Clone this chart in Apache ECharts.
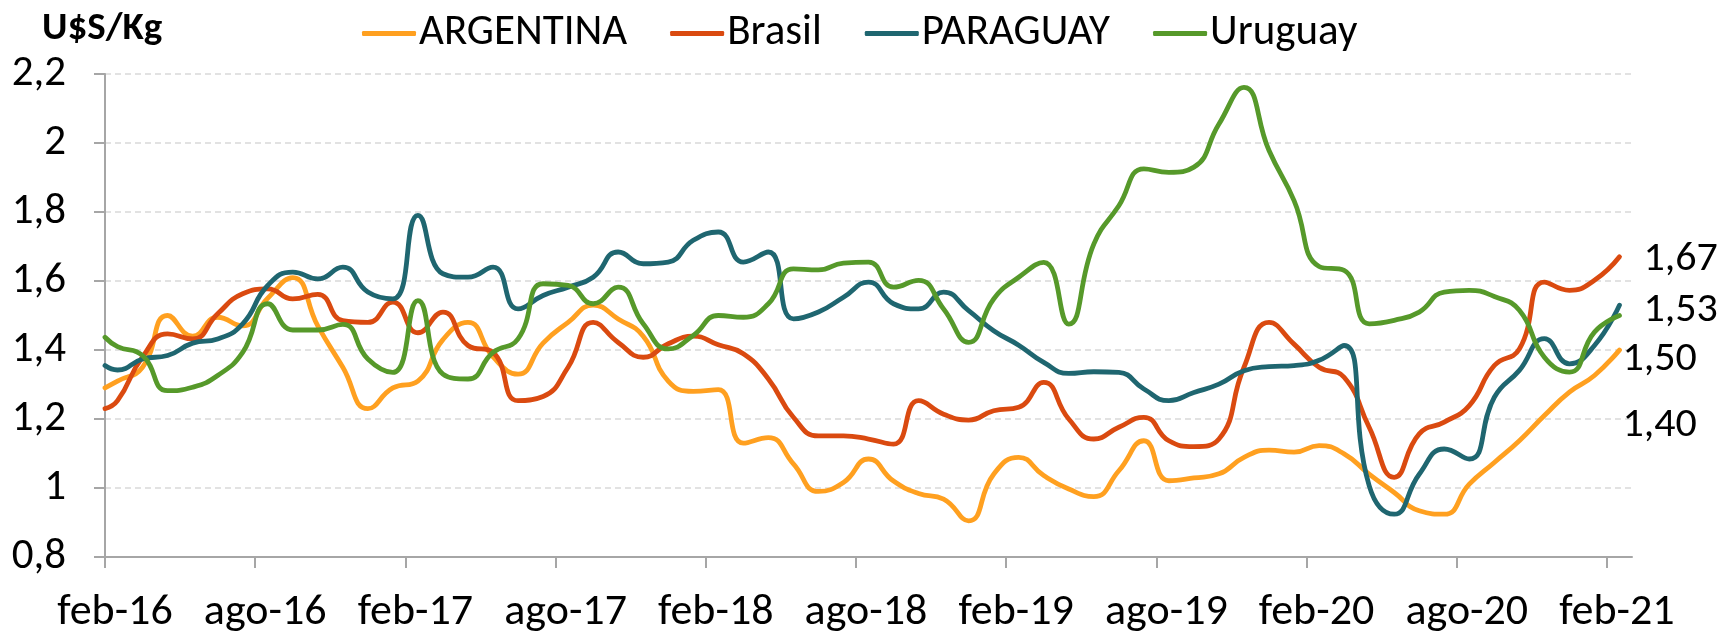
<!DOCTYPE html>
<html>
<head>
<meta charset="utf-8">
<script src="https://cdn.jsdelivr.net/npm/echarts@6/dist/echarts.min.js"></script>
<style>
  html, body { margin: 0; padding: 0; background: #fff; }
  #chart { width: 1717px; height: 631px; }
</style>
</head>
<body>
<div id="chart"></div>
<script>
// Month position (months since feb-16) of each sampled point
const months = [0, 0.5, 1.5, 2.5, 3.5, 4.5, 5.5, 6.5, 7.5, 8.5, 9.5, 10.5, 11.5, 12.5, 13.5, 14.5, 15.5, 16.5, 17.5, 18.5, 19.5,
  20.5, 21.5, 22.5, 23.5, 24.5, 25.5, 26.5, 27.5, 28.5, 29.5, 30.5, 31.5, 32.5, 33.5, 34.5, 35.5, 36.5, 37.5, 38.5, 39.5,
  40.5, 41.5, 42.5, 43.5, 44.5, 45.5, 46.5, 47.5, 48.5, 49.5, 50.5, 51.5, 52.5, 53.5, 54.5, 55.5, 56.5, 57.5, 58.5, 59.5, 60.5];

const argentina = [1.29, 1.31, 1.35, 1.50, 1.44, 1.495, 1.47, 1.55, 1.61, 1.47, 1.35, 1.23, 1.29, 1.31, 1.43, 1.48, 1.38, 1.33, 1.42, 1.48, 1.53,
  1.49, 1.44, 1.31, 1.28, 1.285, 1.13, 1.146, 1.07, 0.99, 1.016, 1.084, 1.02, 0.984, 0.968, 0.905, 1.04, 1.089, 1.036, 0.997, 0.975,
  1.05, 1.137, 1.021, 1.029, 1.041, 1.089, 1.11, 1.104, 1.123, 1.099, 1.04, 0.987, 0.934, 0.924, 1.011, 1.074, 1.137, 1.21, 1.278, 1.326, 1.40];

const brasil = [1.23, 1.253, 1.38, 1.447, 1.432, 1.505, 1.563, 1.577, 1.548, 1.561, 1.485, 1.48, 1.539, 1.45, 1.51, 1.413, 1.393, 1.253, 1.265, 1.35, 1.48,
  1.422, 1.379, 1.418, 1.44, 1.415, 1.389, 1.316, 1.205, 1.151, 1.151, 1.142, 1.127, 1.253, 1.214, 1.197, 1.224, 1.234, 1.306, 1.2, 1.142,
  1.176, 1.205, 1.137, 1.12, 1.142, 1.35, 1.48, 1.417, 1.35, 1.321, 1.176, 1.031, 1.157, 1.191, 1.239, 1.355, 1.403, 1.597, 1.573, 1.602, 1.67];

const paraguay = [1.355, 1.342, 1.374, 1.384, 1.42, 1.432, 1.476, 1.587, 1.626, 1.606, 1.64, 1.568, 1.548, 1.79, 1.621, 1.611, 1.64, 1.519, 1.558, 1.582, 1.611,
  1.684, 1.65, 1.655, 1.718, 1.742, 1.655, 1.684, 1.49, 1.51, 1.553, 1.597, 1.534, 1.519, 1.568, 1.514, 1.456, 1.414, 1.364, 1.332, 1.337,
  1.335, 1.287, 1.253, 1.277, 1.301, 1.34, 1.352, 1.355, 1.37, 1.413, 1.007, 0.924, 1.04, 1.113, 1.084, 1.263, 1.341, 1.433, 1.36, 1.413, 1.53];

const uruguay = [1.437, 1.41, 1.384, 1.282, 1.292, 1.326, 1.393, 1.534, 1.458, 1.458, 1.474, 1.374, 1.335, 1.543, 1.33, 1.316, 1.393, 1.432, 1.592, 1.587, 1.534,
  1.582, 1.476, 1.403, 1.442, 1.50, 1.495, 1.534, 1.635, 1.632, 1.652, 1.655, 1.582, 1.602, 1.519, 1.422, 1.548, 1.611, 1.654, 1.475, 1.707,
  1.818, 1.925, 1.915, 1.93, 2.055, 2.161, 1.978, 1.833, 1.642, 1.631, 1.476, 1.486, 1.51, 1.568, 1.573, 1.555, 1.515, 1.379, 1.336, 1.452, 1.50];

const seriesNames = ['ARGENTINA', 'Brasil', 'PARAGUAY', 'Uruguay'];
const xTickValues = [0, 6, 12, 18, 24, 30, 36, 42, 48, 54, 60];
const xTickLabels = ['feb-16', 'ago-16', 'feb-17', 'ago-17', 'feb-18', 'ago-18', 'feb-19', 'ago-19', 'feb-20', 'ago-20', 'feb-21'];
const yTickValues = [0.8, 1.0, 1.2, 1.4, 1.6, 1.8, 2.0, 2.2];
const yTickLabels = ['0,8', '1', '1,2', '1,4', '1,6', '1,8', '2', '2,2'];

const FONT = 'Carlito, Lato, sans-serif';
const FS = 43;
const colors = ['#FFA020', '#DA4A10', '#1F6670', '#56992A'];
const labelOffsets = [[-2, 75], [19, 3], [19, 5], [-2, 44]];

const allData = [argentina, brasil, paraguay, uruguay];

const chart = echarts.init(document.getElementById('chart'), null, { renderer: 'canvas' });

const series = allData.map((vals, k) => ({
  name: seriesNames[k],
  type: 'line',
  smooth: 0.5,
  showSymbol: false,
  symbol: 'none',
  data: vals.map((v, i) => [months[i], v]),
  lineStyle: { width: 4.8, color: colors[k], cap: 'round', join: 'round' },
  itemStyle: { color: colors[k] },
  endLabel: {
    show: true,
    distance: 5,
    offset: labelOffsets[k],
    color: '#000',
    fontFamily: FONT,
    fontSize: 42,
    formatter: p => p.value[1].toFixed(2).replace('.', ',')
  },
  emphasis: { disabled: true }
}));

chart.setOption({
  animation: false,
  backgroundColor: '#fff',
  color: colors,
  title: {
    text: 'U$S/Kg',
    left: 42,
    top: 10,
    padding: 0,
    textStyle: { fontFamily: FONT, fontSize: 39, fontWeight: 'bold', color: '#000' }
  },
  legend: {
    data: seriesNames,
    left: 362,
    top: 12,
    padding: 0,
    icon: 'roundRect',
    itemWidth: 54,
    itemHeight: 5,
    itemGap: 43,
    textStyle: { fontFamily: FONT, fontSize: FS, color: '#000', padding: [0, 0, 0, -2] }
  },
  grid: { left: 105, right: 85, top: 74, bottom: 74, containLabel: false, outerBoundsMode: 'none' },
  xAxis: {
    type: 'value',
    min: 0,
    max: 61,
    splitLine: { show: false },
    axisLine: { show: true, lineStyle: { color: '#a6a6a6', width: 2 } },
    axisTick: { show: true, length: 11, customValues: xTickValues, lineStyle: { color: '#a6a6a6', width: 2 } },
    axisLabel: {
      customValues: xTickValues,
      formatter: v => { const i = xTickValues.indexOf(Math.round(v)); return i >= 0 ? xTickLabels[i] : ''; },
      margin: 34,
      padding: [0, 0, 0, 20],
      color: '#000',
      fontFamily: FONT,
      fontSize: 44
    }
  },
  yAxis: {
    type: 'value',
    min: 0.8,
    max: 2.2,
    interval: 0.2,
    axisLine: { show: true, lineStyle: { color: '#a6a6a6', width: 2 } },
    axisTick: { show: true, length: 11, lineStyle: { color: '#a6a6a6', width: 2 } },
    splitLine: { show: true, lineStyle: { color: '#d9d9d9', width: 1.5, type: [6, 4] } },
    axisLabel: {
      margin: 39,
      color: '#000',
      fontFamily: FONT,
      fontSize: FS,
      formatter: v => {
        let best = 0;
        yTickValues.forEach((t, i) => { if (Math.abs(t - v) < Math.abs(yTickValues[best] - v)) best = i; });
        return yTickLabels[best];
      }
    }
  },
  series: series
});
</script>
</body>
</html>
